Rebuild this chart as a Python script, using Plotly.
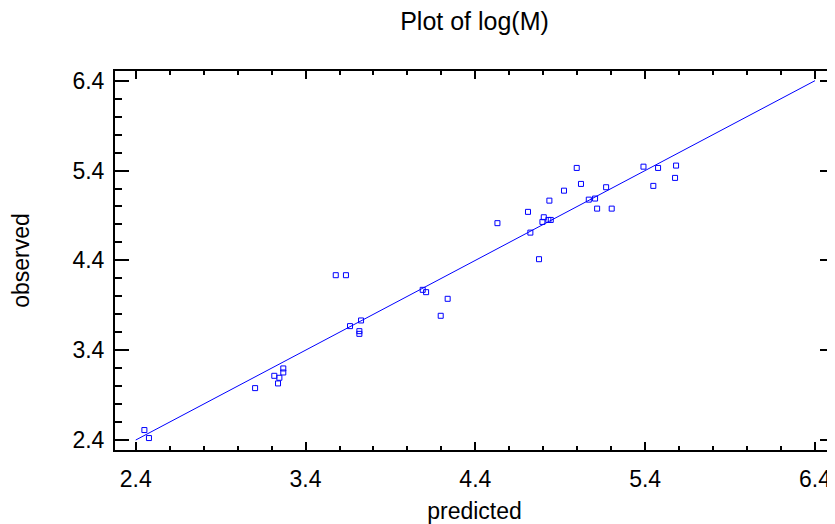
import plotly.graph_objects as go

predicted = [2.451, 2.478, 3.103, 3.216, 3.246, 3.238, 3.269, 3.269, 3.578, 3.638,
             3.662, 3.727, 3.717, 3.717, 4.090, 4.110, 4.237, 4.196, 4.530, 4.710,
             4.724, 4.775, 4.803, 4.795, 4.830, 4.844, 4.836, 4.922, 4.997, 5.022,
             5.068, 5.105, 5.117, 5.170, 5.203, 5.390, 5.476, 5.448, 5.582, 5.576]
observed = [2.511, 2.422, 2.978, 3.115, 3.093, 3.030, 3.197, 3.152, 4.235, 4.235,
            3.668, 3.731, 3.612, 3.582, 4.072, 4.046, 3.972, 3.783, 4.814, 4.940,
            4.709, 4.413, 4.880, 4.828, 4.850, 4.850, 5.065, 5.176, 5.429, 5.251,
            5.076, 5.088, 4.976, 5.214, 4.976, 5.443, 5.429, 5.229, 5.455, 5.318]
fit_line = [2.4, 6.4]
tick_vals = [2.4, 3.4, 4.4, 5.4, 6.4]
tick_text = ["2.4", "3.4", "4.4", "5.4", "6.4"]

x_range = [2.278, 6.512]
y_range = [2.289, 6.508]

FONT = "Liberation Sans, Arial, sans-serif"
BLUE = "rgb(0,0,255)"

fig = go.Figure()
fig.add_trace(go.Scatter(x=fit_line, y=fit_line, mode="lines",
                         line=dict(color=BLUE, width=1), showlegend=False, hoverinfo="skip"))
fig.add_trace(go.Scatter(x=predicted, y=observed, mode="markers",
                         marker=dict(symbol="square-open", size=5, color=BLUE,
                                     line=dict(color=BLUE, width=1)),
                         showlegend=False))

# page body has an 8px margin, so the figure is sized to end at the window edge
fig.update_layout(
    width=827, height=516,
    margin=dict(l=107, r=1, t=63, b=74),
    paper_bgcolor="white", plot_bgcolor="white",
    font=dict(family=FONT, color="black", size=23),
    title=dict(text="Plot of log(M)", x=0.5, xref="paper", xanchor="center",
               yref="container", y=0.974, yanchor="middle", font=dict(size=25, family=FONT)),
    xaxis=dict(range=x_range, tickmode="array", tickvals=tick_vals, ticktext=tick_text,
               ticks="inside", ticklen=8, tickwidth=1.5, tickcolor="black",
               minor=dict(ticks="inside", ticklen=4, tickwidth=1.5, dtick=0.2, tick0=2.4, tickcolor="black"),
               showline=True, linewidth=2, linecolor="black", mirror="ticks",
               showgrid=False, zeroline=False, automargin=False, ticklabelstandoff=7,
               title=dict(text="predicted", font=dict(size=23), standoff=14),
               tickfont=dict(size=23)),
    yaxis=dict(range=y_range, tickmode="array", tickvals=tick_vals, ticktext=tick_text,
               ticks="inside", ticklen=14, tickwidth=1.5, tickcolor="black",
               minor=dict(ticks="inside", ticklen=7, tickwidth=1.5, dtick=0.2, tick0=2.4, tickcolor="black"),
               showline=True, linewidth=2, linecolor="black", mirror="ticks",
               showgrid=False, zeroline=False, automargin=False, ticklabelstandoff=4,
               title=dict(text="observed", font=dict(size=23), standoff=38),
               tickfont=dict(size=23)),
)

fig.write_html("out.html")
